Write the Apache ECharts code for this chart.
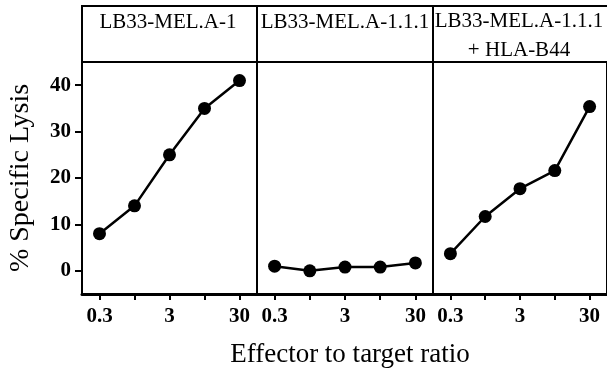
<!DOCTYPE html>
<html>
<head>
<meta charset="utf-8">
<script src="https://cdn.jsdelivr.net/npm/echarts@6/dist/echarts.min.js"></script>
<style>
  html, body { margin: 0; padding: 0; background: #fff; }
  #chart { width: 607px; height: 372px; }
</style>
</head>
<body>
<div id="chart"></div>
<script>
// 数据
const ratios = ['0.3', '1', '3', '10', '30'];
const ratioLabels = ['0.3', '', '3', '', '30'];
const yTicks = [0, 10, 20, 30, 40];
const panelTitles = ['LB33-MEL.A-1', 'LB33-MEL.A-1.1.1', 'LB33-MEL.A-1.1.1\n+ HLA-B44'];
const lysisA1 = [8, 14, 25, 35, 41];
const lysisA111 = [1, 0, 0.8, 0.8, 1.7];
const lysisA111B44 = [3.7, 11.7, 17.7, 21.6, 35.4];

const seriesData = [lysisA1, lysisA111, lysisA111B44];
const FONT = '"Liberation Serif", "DejaVu Serif", serif';

// 面板的位置
const panels = [
  { left: 82, width: 175 },
  { left: 257, width: 176 },
  { left: 433, width: 176 },
];
const TOP = 62;
const BOTTOM = 294;
const HEAD_TOP = 6;

const chart = echarts.init(document.getElementById('chart'));

const grid = panels.map(p => ({
  left: p.left,
  width: p.width,
  top: TOP,
  height: BOTTOM - TOP,
  show: true,
  borderColor: '#000',
  borderWidth: 2,
  containLabel: false,
}));

const xAxis = panels.map((p, i) => ({
  type: 'category',
  gridIndex: i,
  data: ratios,
  boundaryGap: true,
  axisLine: { onZero: false, lineStyle: { color: '#000', width: 3 } },
  axisTick: { show: true, alignWithLabel: true, interval: 0, length: 6, lineStyle: { color: '#000', width: 2 } },
  axisLabel: {
    interval: 0,
    margin: 12,
    color: '#000',
    fontFamily: FONT,
    fontWeight: 'bold',
    fontSize: 21,
    formatter: (v, idx) => ratioLabels[idx],
  },
  splitLine: { show: false },
}));

const yAxis = panels.map((p, i) => ({
  type: 'value',
  gridIndex: i,
  min: -5,
  max: 45,
  show: i === 0,
  name: i === 0 ? '% Specific Lysis' : '',
  nameLocation: 'middle',
  nameRotate: 90,
  nameGap: 47,
  nameTextStyle: { color: '#000', fontFamily: FONT, fontSize: 28 },
  axisLine: { show: true, onZero: false, lineStyle: { color: '#000', width: 2 } },
  axisTick: { show: true, length: 7, customValues: yTicks, lineStyle: { color: '#000', width: 2 } },
  axisLabel: {
    customValues: yTicks,
    margin: 11,
    color: '#000',
    fontFamily: FONT,
    fontWeight: 'bold',
    fontSize: 21,
  },
  splitLine: { show: false },
}));

const series = seriesData.map((d, i) => ({
  type: 'line',
  xAxisIndex: i,
  yAxisIndex: i,
  data: d,
  symbol: 'circle',
  symbolSize: 13,
  itemStyle: { color: '#000' },
  lineStyle: { color: '#000', width: 2.5 },
  animation: false,
}));

// 表头方框和文字
const graphic = [];
panels.forEach((p, i) => {
  graphic.push({
    type: 'rect',
    shape: { x: p.left, y: HEAD_TOP, width: p.width, height: TOP - HEAD_TOP },
    style: { fill: 'none', stroke: '#000', lineWidth: 2 },
  });
});
const titlePos = [
  { x: 168, y: 22 },
  { x: 345, y: 22 },
  { x: 519, y: 36 },
];
panelTitles.forEach((t, i) => {
  graphic.push({
    type: 'text',
    x: titlePos[i].x,
    y: titlePos[i].y,
    style: {
      text: t,
      fill: '#000',
      font: '21px ' + FONT,
      align: 'center',
      verticalAlign: 'middle',
      lineHeight: 29,
    },
  });
});
graphic.push({
  type: 'text',
  x: 350,
  y: 355,
  style: {
    text: 'Effector to target ratio',
    fill: '#000',
    font: '27px ' + FONT,
    align: 'center',
    verticalAlign: 'middle',
  },
});

chart.setOption({
  animation: false,
  grid,
  xAxis,
  yAxis,
  series,
  graphic,
});
</script>
</body>
</html>
